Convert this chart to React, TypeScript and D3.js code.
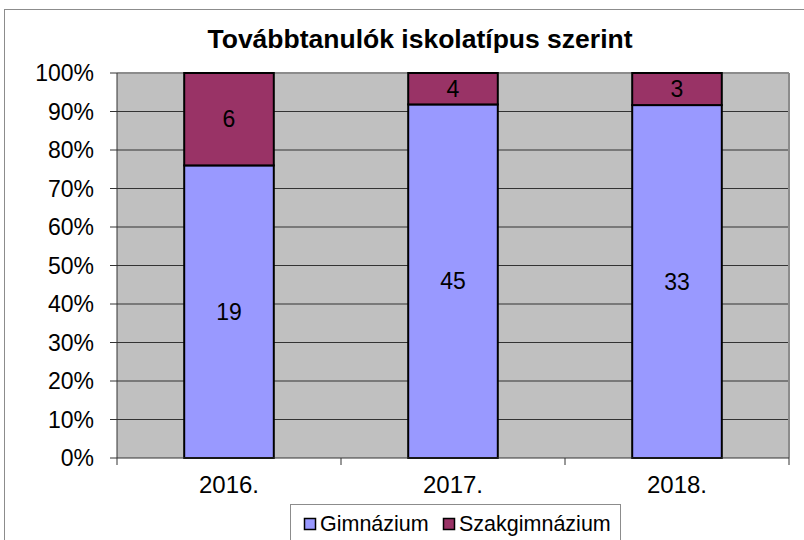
import React from "react";
import * as d3 from "d3";

const categories = ["2016.", "2017.", "2018."];
const gimnazium = [19, 45, 33];
const szakgimnazium = [6, 4, 3];
const seriesNames = ["Gimnázium", "Szakgimnázium"];
const yTicks = [0, 0.1, 0.2, 0.3, 0.4, 0.5, 0.6, 0.7, 0.8, 0.9, 1];

const colors = ["#9999FF", "#993366"];
const FONT = "'Liberation Sans', Arial, sans-serif";

export default function App() {
  const W = 804, H = 540;
  const plot = { left: 117, right: 789, top: 73, bottom: 458 };
  const x = d3.scaleBand<string>().domain(categories).range([plot.left, plot.right]).paddingInner(0.6).paddingOuter(0.3);
  const y = d3.scaleLinear().domain([0, 1]).range([plot.bottom, plot.top]);
  const rows = categories.map((c, i) => ({ cat: c, g: gimnazium[i], s: szakgimnazium[i] }));
  const stack = d3.stack<any>().keys(["g", "s"]).offset(d3.stackOffsetExpand)(rows);
  const catBoundaries = d3.range(categories.length + 1).map((i) => plot.left + (i * (plot.right - plot.left)) / categories.length);

  return (
    <svg width={W} height={H} style={{ position: "absolute", left: 0, top: 0 }} fontFamily={FONT}>
      <rect x={0} y={0} width={W} height={H} fill="#fff" />
      <rect x={4.5} y={9.5} width={1000} height={1000} fill="#fff" stroke="#8c8c8c" strokeWidth={1} />
      <text x={420} y={48} textAnchor="middle" fontSize={26.5} fontWeight="bold" fill="#000">
        Továbbtanulók iskolatípus szerint
      </text>
      <rect x={plot.left} y={plot.top} width={plot.right - plot.left} height={plot.bottom - plot.top} fill="#C0C0C0" />
      {yTicks.map((t) => (
        <g key={t}>
          {t > 0 && t < 1 && (
            <line x1={plot.left} x2={plot.right} y1={y(t)} y2={y(t)} stroke="#333" strokeWidth={1} />
          )}
          <line x1={plot.left - 7} x2={plot.left} y1={y(t)} y2={y(t)} stroke="#333" strokeWidth={1} />
          <text x={94} y={y(t)} dy="0.36em" textAnchor="end" fontSize={23} fill="#000">
            {d3.format(".0%")(t)}
          </text>
        </g>
      ))}
      <line x1={plot.left} x2={plot.right} y1={plot.top} y2={plot.top} stroke="#8c8c8c" strokeWidth={2} />
      <line x1={plot.right} x2={plot.right} y1={plot.top} y2={plot.bottom} stroke="#8c8c8c" strokeWidth={2} />
      {stack.map((layer, li) =>
        layer.map((d, i) => {
          const bx = x(categories[i])!;
          const y0 = y(d[0]);
          const y1 = y(d[1]);
          const val = li === 0 ? gimnazium[i] : szakgimnazium[i];
          return (
            <g key={`${li}-${i}`}>
              <rect x={bx} y={y1} width={x.bandwidth()} height={y0 - y1} fill={colors[li]} stroke="#000" strokeWidth={2} />
              <text x={bx + x.bandwidth() / 2} y={(y0 + y1) / 2} dy="0.36em" textAnchor="middle" fontSize={23} fill="#000">
                {val}
              </text>
            </g>
          );
        })
      )}
      <line x1={plot.left} x2={plot.left} y1={plot.top} y2={plot.bottom} stroke="#333" strokeWidth={1} />
      <line x1={plot.left} x2={plot.right} y1={plot.bottom} y2={plot.bottom} stroke="#333" strokeWidth={1} />
      {catBoundaries.map((bx, i) => (
        <line key={i} x1={bx} x2={bx} y1={plot.bottom} y2={plot.bottom + 7} stroke="#333" strokeWidth={1} />
      ))}
      {categories.map((c) => (
        <text key={c} x={x(c)! + x.bandwidth() / 2} y={493} textAnchor="middle" fontSize={24} fill="#000">
          {c}
        </text>
      ))}
      <rect x={290.5} y={504.5} width={330} height={60} fill="#fff" stroke="#8c8c8c" strokeWidth={1} />
      {seriesNames.map((n, i) => {
        const lx = i === 0 ? 304 : 443;
        return (
          <g key={n}>
            <rect x={lx + 0.5} y={518.5} width={11} height={11} fill={colors[i]} stroke="#000" strokeWidth={1.5} />
            <text x={lx + 16} y={531} fontSize={21.5} fill="#000">
              {n}
            </text>
          </g>
        );
      })}
    </svg>
  );
}
